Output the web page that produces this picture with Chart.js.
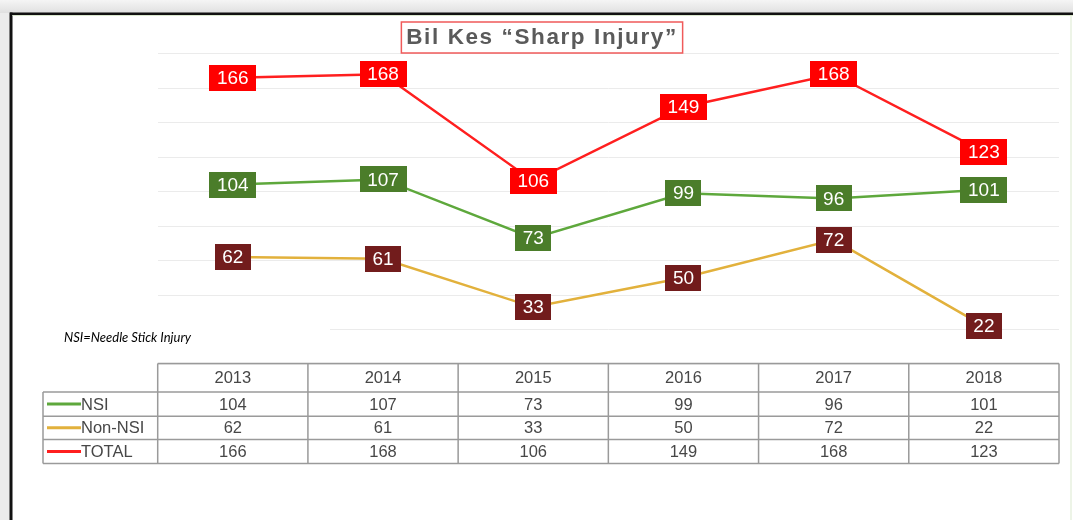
<!DOCTYPE html>
<html>
<head>
<meta charset="utf-8">
<script src="https://cdn.jsdelivr.net/npm/chart.js@4.4.1/dist/chart.umd.min.js"></script>
<style>
html,body{margin:0;padding:0;background:#fff;overflow:hidden;}
#wrap{position:relative;width:1073px;height:520px;}
canvas{display:block;}
</style>
</head>
<body>
<div id="wrap"><canvas id="c" width="1073" height="520"></canvas></div>
<script>
// ---- data ----
const years = ['2013', '2014', '2015', '2016', '2017', '2018'];
const nsiValues = [104, 107, 73, 99, 96, 101];
const nonNsiValues = [62, 61, 33, 50, 72, 22];
const totalValues = [166, 168, 106, 149, 168, 123];
const seriesNames = ['NSI', 'Non-NSI', 'TOTAL'];
const yMin = 0, yMax = 180, yStep = 20;
const titleText = 'Bil Kes “Sharp Injury”';
const noteText = 'NSI=Needle Stick Injury';

// ---- styles ----
const FONT = "'Liberation Sans', Arial, sans-serif";
const lineColors = ['#5EA83C', '#E2B13C', '#FF1F1F'];
const labelColors = ['#4B7D2A', '#721C1C', '#FF0000'];
const TITLE_SPACING = '1.6px';

const framePlugin = {
  id: 'frame',
  beforeDraw(chart) {
    const ctx = chart.ctx, W = chart.width, H = chart.height;
    ctx.save();
    ctx.fillStyle = '#ececec';
    ctx.fillRect(0, 0, W, H);
    const g = ctx.createLinearGradient(0, 0, 0, 13);
    g.addColorStop(0, '#f5f5f5'); g.addColorStop(1, '#e0e0e0');
    ctx.fillStyle = g; ctx.fillRect(0, 0, W, 13);
    ctx.fillStyle = '#ffffff'; ctx.fillRect(10, 13, W - 10, H - 13);
    ctx.fillStyle = '#111111';
    ctx.fillRect(10, 12.5, W - 10, 2.5);
    ctx.fillRect(9.5, 12.5, 3, H - 12.5);
    ctx.fillStyle = '#dbe9cf';
    ctx.fillRect(1070.5, 15, 1, H - 15);
    ctx.fillRect(12.5, 15, W - 12.5, 1);
    ctx.restore();
    ctx.letterSpacing = TITLE_SPACING;
  },
  beforeDatasetsDraw(chart) {
    const ctx = chart.ctx;
    ctx.letterSpacing = '0px';
    ctx.save();
    ctx.fillStyle = '#ffffff';
    ctx.fillRect(40, 318, 290, 44);
    ctx.fillStyle = '#000000';
    ctx.font = "italic 13px Lato, 'Liberation Sans', sans-serif";
    ctx.textBaseline = 'middle'; ctx.textAlign = 'left';
    ctx.fillText(noteText, 64, 338);
    ctx.restore();
  },
  afterDatasetsDraw(chart) {
    const ctx = chart.ctx;
    ctx.save();
    ctx.font = '19px ' + FONT;
    ctx.textAlign = 'center'; ctx.textBaseline = 'middle';
    chart.data.datasets.forEach((ds, di) => {
      const meta = chart.getDatasetMeta(di);
      meta.data.forEach((pt, i) => {
        const txt = String(ds.data[i]);
        const w = Math.round(ctx.measureText(txt).width + 15), h = 26;
        ctx.fillStyle = labelColors[di];
        ctx.fillRect(Math.round(pt.x - w / 2), Math.round(pt.y - h / 2), w, h);
        ctx.fillStyle = '#ffffff';
        ctx.fillText(txt, pt.x, pt.y + 1);
      });
    });
    ctx.restore();
  },
  afterDraw(chart) {
    const ctx = chart.ctx, xs = chart.scales.x, area = chart.chartArea;
    // title border
    const tb = chart.titleBlock;
    ctx.save();
    ctx.font = 'bold 22px ' + FONT;
    ctx.letterSpacing = TITLE_SPACING;
    const tw = ctx.measureText(titleText).width;
    ctx.letterSpacing = '0px';
    const tcx = (tb.left + tb.right) / 2, tcy = tb.top + 14.3 + 13.2;
    ctx.strokeStyle = '#f05a5a'; ctx.lineWidth = 1.5;
    ctx.strokeRect(tcx - tw / 2 - 7.5, tcy - 15.5, tw + 15, 31);
    ctx.restore();

    // data table
    const rows = [nsiValues, nonNsiValues, totalValues];
    const rowH = [28.4, 24.3, 23.3, 24];
    const ys = [area.bottom - 0.5];
    rowH.forEach(h => ys.push(ys[ys.length - 1] + h));
    const colX = years.map((_, i) => xs.getPixelForValue(i - 0.5));
    colX.push(xs.getPixelForValue(years.length - 0.5));
    const legL = 43;
    ctx.save();
    ctx.strokeStyle = '#9a9a9a'; ctx.lineWidth = 1.5;
    ctx.beginPath();
    ctx.moveTo(colX[0], ys[0]); ctx.lineTo(colX[colX.length - 1], ys[0]);
    for (let r = 1; r < ys.length; r++) { ctx.moveTo(legL, ys[r]); ctx.lineTo(colX[colX.length - 1], ys[r]); }
    colX.forEach(x => { ctx.moveTo(x, ys[0]); ctx.lineTo(x, ys[ys.length - 1]); });
    ctx.moveTo(legL, ys[1]); ctx.lineTo(legL, ys[ys.length - 1]);
    ctx.stroke();

    ctx.font = '16.5px ' + FONT;
    ctx.fillStyle = '#474747';
    ctx.textAlign = 'center'; ctx.textBaseline = 'middle';
    years.forEach((y, i) => ctx.fillText(y, xs.getPixelForValue(i), (ys[0] + ys[1]) / 2 + 1));
    rows.forEach((vals, r) => {
      const cy = (ys[r + 1] + ys[r + 2]) / 2 + 1;
      vals.forEach((v, i) => ctx.fillText(String(v), xs.getPixelForValue(i), cy));
      ctx.strokeStyle = lineColors[r]; ctx.lineWidth = 3;
      ctx.beginPath(); ctx.moveTo(47, cy - 1); ctx.lineTo(81, cy - 1); ctx.stroke();
      ctx.textAlign = 'left';
      ctx.fillText(seriesNames[r], 81, cy);
      ctx.textAlign = 'center';
    });
    ctx.restore();
  }
};

const seriesValues = [nsiValues, nonNsiValues, totalValues];

new Chart(document.getElementById('c'), {
  type: 'line',
  data: {
    labels: years,
    datasets: seriesNames.map((name, i) => ({
      label: name,
      data: seriesValues[i],
      borderColor: lineColors[i],
      backgroundColor: lineColors[i],
      borderWidth: 2.5,
      pointRadius: 0,
      pointHoverRadius: 0,
      tension: 0,
      fill: false
    }))
  },
  options: {
    responsive: false,
    animation: false,
    devicePixelRatio: 1,
    layout: { padding: { left: 25, right: 14, top: 10, bottom: 156 } },
    plugins: {
      legend: { display: false },
      tooltip: { enabled: false },
      title: {
        display: true,
        text: titleText,
        color: '#5a5a5a',
        font: { family: FONT, size: 22.5, weight: 'bold', lineHeight: 1.2 },
        padding: { top: 14, bottom: 2.5 }
      }
    },
    scales: {
      x: {
        type: 'category',
        offset: true,
        display: false
      },
      y: {
        min: yMin, max: yMax,
        ticks: { display: false, stepSize: yStep },
        grid: { color: '#ebebeb', lineWidth: 1, drawTicks: false },
        border: { display: false },
        afterFit(s) { s.width = 132.7; }
      }
    }
  },
  plugins: [framePlugin]
});
</script>
</body>
</html>
